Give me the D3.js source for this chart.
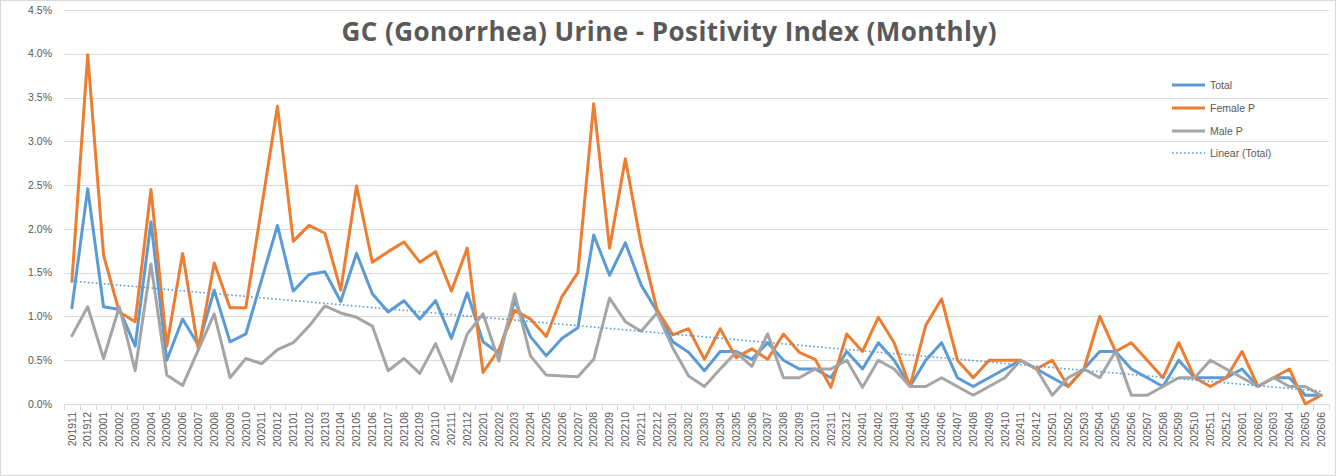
<!doctype html>
<html>
<head>
<meta charset="utf-8">
<title>GC (Gonorrhea) Urine - Positivity Index (Monthly)</title>
<script src="https://d3js.org/d3.v7.min.js"></script>
<style>
  body { margin: 0; background: #fff; }
  svg { display: block; }
  .tick-label { font-family: "Liberation Sans", Arial, sans-serif; font-size: 10.5px; fill: #595959; }
</style>
</head>
<body>
<div id="chart"></div>
<script>
// months shown on the x axis
var months = [
  "201911","201912",
  "202001","202002","202003","202004","202005","202006","202007","202008","202009","202010","202011","202012",
  "202101","202102","202103","202104","202105","202106","202107","202108","202109","202110","202111","202112",
  "202201","202202","202203","202204","202205","202206","202207","202208","202209","202210","202211","202212",
  "202301","202302","202303","202304","202305","202306","202307","202308","202309","202310","202311","202312",
  "202401","202402","202403","202404","202405","202406","202407","202408","202409","202410","202411","202412",
  "202501","202502","202503","202504","202505","202506","202507","202508","202509","202510","202511","202512",
  "202601","202602","202603","202604","202605","202606"
];

// positivity in percent
var total = [
  1.10, 2.46,
  1.11, 1.08, 0.66, 2.08, 0.50, 0.97, 0.67, 1.30, 0.71, 0.80, 1.42, 2.04,
  1.29, 1.48, 1.51, 1.17, 1.72, 1.26, 1.05, 1.18, 0.97, 1.18, 0.75, 1.27,
  0.71, 0.58, 1.18, 0.77, 0.55, 0.75, 0.87, 1.93, 1.47, 1.84, 1.36, 1.06,
  0.71, 0.59, 0.38, 0.60, 0.60, 0.51, 0.70, 0.50, 0.40, 0.40, 0.30, 0.60,
  0.40, 0.70, 0.50, 0.20, 0.50, 0.70, 0.30, 0.20, 0.30, 0.40, 0.50, 0.40,
  0.30, 0.20, 0.40, 0.60, 0.60, 0.40, 0.30, 0.20, 0.50, 0.30, 0.30, 0.30,
  0.40, 0.20, 0.30, 0.30, 0.10, 0.10
];
var femaleP = [
  1.40, 3.99,
  1.70, 1.05, 0.94, 2.45, 0.66, 1.72, 0.62, 1.61, 1.10, 1.10, 2.25, 3.40,
  1.86, 2.04, 1.95, 1.30, 2.49, 1.62, 1.74, 1.85, 1.62, 1.74, 1.29, 1.78,
  0.36, 0.62, 1.07, 0.97, 0.77, 1.23, 1.50, 3.43, 1.78, 2.80, 1.82, 1.08,
  0.79, 0.86, 0.51, 0.86, 0.53, 0.63, 0.51, 0.80, 0.59, 0.51, 0.19, 0.80,
  0.60, 0.99, 0.70, 0.20, 0.90, 1.20, 0.50, 0.30, 0.50, 0.50, 0.50, 0.40,
  0.50, 0.20, 0.40, 1.00, 0.60, 0.70, 0.50, 0.30, 0.70, 0.30, 0.20, 0.30,
  0.60, 0.20, 0.30, 0.40, 0.00, 0.10
];
var maleP = [
  0.78, 1.11,
  0.52, 1.11, 0.38, 1.60, 0.33, 0.21, 0.62, 1.03, 0.30, 0.52, 0.46, 0.62,
  0.70, 0.89, 1.12, 1.04, 0.99, 0.89, 0.38, 0.52, 0.35, 0.69, 0.26, 0.80,
  1.03, 0.49, 1.26, 0.55, 0.33, 0.32, 0.31, 0.51, 1.21, 0.94, 0.83, 1.04,
  0.64, 0.32, 0.20, 0.40, 0.59, 0.43, 0.80, 0.30, 0.30, 0.40, 0.40, 0.50,
  0.19, 0.50, 0.40, 0.20, 0.20, 0.30, 0.20, 0.10, 0.20, 0.30, 0.50, 0.40,
  0.10, 0.30, 0.40, 0.30, 0.60, 0.10, 0.10, 0.20, 0.30, 0.30, 0.50, 0.40,
  0.30, 0.20, 0.30, 0.20, 0.20, 0.10
];

var yTicks = [0, 0.5, 1.0, 1.5, 2.0, 2.5, 3.0, 3.5, 4.0, 4.5];

var seriesNames = ["Total", "Female P", "Male P"];
var seriesColors = ["#5b9bd5", "#ed7d31", "#a5a5a5"];

var W = 1336, H = 476;
var plot = {left: 64, right: 1329, top: 10, bottom: 404};

var svg = d3.select("#chart").append("svg")
  .attr("width", W)
  .attr("height", H);

// outer chart border
svg.append("rect")
  .attr("x", 0.5).attr("y", 0.5)
  .attr("width", W - 1).attr("height", H - 1)
  .attr("fill", "#fff")
  .attr("stroke", "#d9d9d9");

var x = d3.scaleBand()
  .domain(months)
  .range([plot.left, plot.right])
  .padding(0);
var y = d3.scaleLinear()
  .domain([0, 4.5])
  .range([plot.bottom, plot.top]);

function cx(i) { return x(months[i]) + x.bandwidth() / 2; }

// gridlines
svg.append("g")
  .selectAll("line")
  .data(yTicks.slice(1))
  .enter().append("line")
  .attr("x1", plot.left).attr("x2", plot.right)
  .attr("y1", function(d) { return Math.round(y(d)) + 0.5; })
  .attr("y2", function(d) { return Math.round(y(d)) + 0.5; })
  .attr("stroke", "#d9d9d9")
  .attr("stroke-width", 1);

// y axis labels
svg.append("g")
  .selectAll("text")
  .data(yTicks)
  .enter().append("text")
  .attr("class", "tick-label")
  .attr("x", 52)
  .attr("y", function(d) { return y(d); })
  .attr("dy", "0.35em")
  .attr("text-anchor", "end")
  .text(function(d) { return d.toFixed(1) + "%"; });

// x axis line + ticks
var xAxis = svg.append("g");
xAxis.append("line")
  .attr("x1", plot.left).attr("x2", plot.right)
  .attr("y1", Math.round(y(0)) + 0.5).attr("y2", Math.round(y(0)) + 0.5)
  .attr("stroke", "#d9d9d9");
xAxis.selectAll("line.tk")
  .data(months.concat(["end"]))
  .enter().append("line")
  .attr("class", "tk")
  .attr("x1", function(d, i) { return Math.round(plot.left + i * x.bandwidth()) + 0.5; })
  .attr("x2", function(d, i) { return Math.round(plot.left + i * x.bandwidth()) + 0.5; })
  .attr("y1", Math.round(y(0)))
  .attr("y2", Math.round(y(0)) + 6)
  .attr("stroke", "#d9d9d9");
xAxis.selectAll("text")
  .data(months)
  .enter().append("text")
  .attr("class", "tick-label")
  .attr("transform", function(d) { return "translate(" + (x(d) + x.bandwidth() / 2) + "," + 412 + ") rotate(-90)"; })
  .attr("dy", "0.35em")
  .attr("text-anchor", "end")
  .text(function(d) { return d; });

// series lines
var line = d3.line()
  .x(function(d, i) { return cx(i); })
  .y(function(d) { return y(d); });

[total, femaleP, maleP].forEach(function(s, k) {
  svg.append("path")
    .datum(s)
    .attr("d", line)
    .attr("fill", "none")
    .attr("stroke", seriesColors[k])
    .attr("stroke-width", 3)
    .attr("stroke-linejoin", "round")
    .attr("stroke-linecap", "round");
});

// linear trend of Total (least squares)
var n = total.length;
var mx = d3.mean(total, function(d, i) { return i; });
var my = d3.mean(total);
var sxy = d3.sum(total, function(d, i) { return (i - mx) * (d - my); });
var sxx = d3.sum(total, function(d, i) { return (i - mx) * (i - mx); });
var slope = sxy / sxx, icpt = my - slope * mx;
var trend = [icpt, icpt + slope * (n - 1)];

svg.append("line")
  .attr("x1", cx(0)).attr("y1", y(trend[0]))
  .attr("x2", cx(n - 1)).attr("y2", y(trend[1]))
  .attr("stroke", "#5b9bd5")
  .attr("stroke-width", 1.6)
  .attr("stroke-dasharray", "1.6,2.4");

// title
svg.append("text")
  .attr("x", 669)
  .attr("y", 41)
  .attr("text-anchor", "middle")
  .attr("textLength", 655)
  .attr("lengthAdjust", "spacing")
  .style("font-family", "'Open Sans', sans-serif")
  .style("font-weight", "bold")
  .style("font-size", "26px")
  .style("fill", "#595959")
  .text("GC (Gonorrhea) Urine - Positivity Index (Monthly)");

// legend
var legendY = [85, 108, 131, 153];
var legend = svg.append("g");
seriesNames.forEach(function(name, k) {
  legend.append("line")
    .attr("x1", 1172).attr("x2", 1205)
    .attr("y1", legendY[k]).attr("y2", legendY[k])
    .attr("stroke", seriesColors[k])
    .attr("stroke-width", 3);
  legend.append("text")
    .attr("class", "tick-label")
    .attr("x", 1210)
    .attr("y", legendY[k])
    .attr("dy", "0.35em")
    .text(name);
});
legend.append("line")
  .attr("x1", 1172).attr("x2", 1205)
  .attr("y1", legendY[3]).attr("y2", legendY[3])
  .attr("stroke", "#5b9bd5")
  .attr("stroke-width", 1.6)
  .attr("stroke-dasharray", "1.6,2.4");
legend.append("text")
  .attr("class", "tick-label")
  .attr("x", 1210)
  .attr("y", legendY[3])
  .attr("dy", "0.35em")
  .text("Linear (Total)");
</script>
</body>
</html>
